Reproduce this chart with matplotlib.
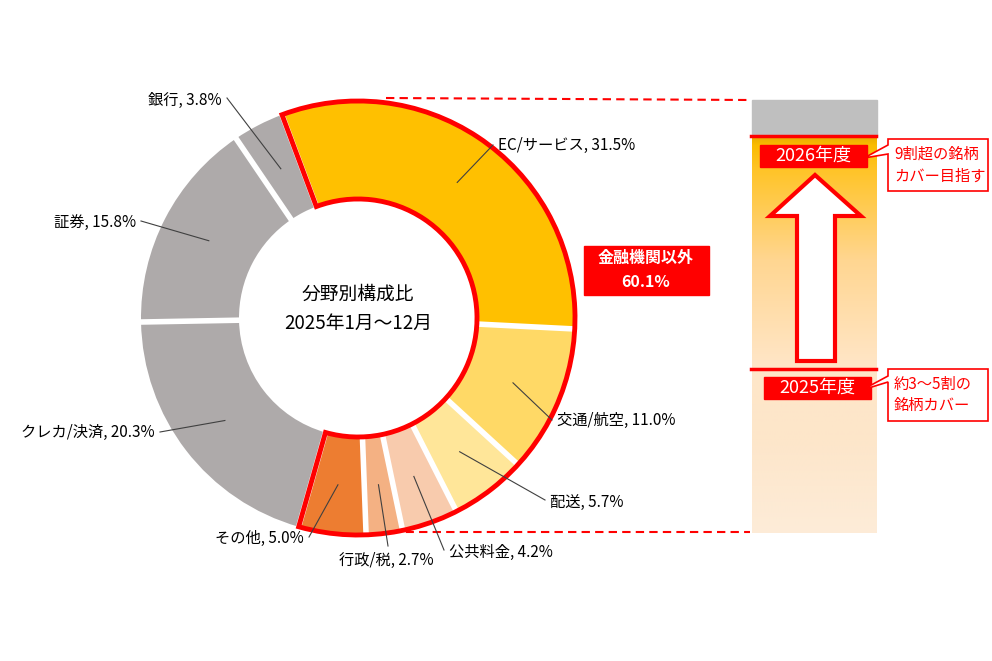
import numpy as np
import matplotlib.pyplot as plt
from matplotlib.patches import Wedge, Rectangle, Polygon

plt.rcParams['font.family'] = ['Noto Sans CJK JP', 'DejaVu Sans']

# data
categories = ['EC/サービス', '交通/航空', '配送', '公共料金', '行政/税', 'その他',
              'クレカ/決済', '証券', '銀行']
shares = [31.5, 11.0, 5.7, 4.2, 2.7, 5.0, 20.3, 15.8, 3.8]
colors = ['#FFC000', '#FFD966', '#FFE699', '#F8CBAD', '#F4B183', '#ED7D31',
          '#AEAAAA', '#AEAAAA', '#AEAAAA']
n_non_finance = 6
center_title = '分野別構成比\n2025年1月～12月'
group_label = '金融機関以外\n60.1%'
years = ['2026年度', '2025年度']
year_notes = ['9割超の銘柄\nカバー目指す', '約3～5割の\n銘柄カバー']

W, H = 992, 661
fig = plt.figure(figsize=(W / 100, H / 100), dpi=100)
ax = fig.add_axes([0, 0, 1, 1])


def py(y):
    return H - y


cx, cy = 358, py(318)
R, ring = 217, 98
start = 110.5

ax.pie(shares, colors=colors, startangle=start, counterclock=False, radius=R,
       center=(cx, cy), wedgeprops=dict(width=ring, linewidth=0), frame=True)
ax.set_xlim(0, W)
ax.set_ylim(0, H)
ax.set_aspect('equal')
ax.axis('off')

# white gaps between slices
cum = np.concatenate([[0], np.cumsum(shares)])
for c in cum[:-1]:
    th = np.radians(start - 3.6 * c)
    r0, r1 = R - ring - 3, R + 3
    ax.plot([cx + r0 * np.cos(th), cx + r1 * np.cos(th)],
            [cy + r0 * np.sin(th), cy + r1 * np.sin(th)],
            color='white', lw=4, solid_capstyle='butt', zorder=3)

# red outline around non-finance group
grp = sum(shares[:n_non_finance])
ax.add_patch(Wedge((cx, cy), R, start - 3.6 * grp, start, width=ring,
                   fill=False, edgecolor='#FF0000', lw=3.5, zorder=4))

# leader labels: text position, line end, alignment (layout only)
label_pos = [
    (498, 145, 493, 145, 'left', 'center'),
    (557, 420, 552, 420, 'left', 'center'),
    (550, 502, 545, 500, 'left', 'center'),
    (449, 552, 444, 550, 'left', 'center'),
    (386, 552, 388, 546, 'center', 'top'),
    (304, 538, 309, 537, 'right', 'center'),
    (155, 432, 160, 432, 'right', 'center'),
    (136, 222, 141, 221, 'right', 'center'),
    (222, 100, 227, 98, 'right', 'center'),
]
rm = R - ring / 2
for i, (name, s) in enumerate(zip(categories, shares)):
    mid = np.radians(start - 3.6 * (cum[i] + s / 2))
    ax_, ay_ = cx + rm * np.cos(mid), cy + rm * np.sin(mid)
    tx, ty, lx, ly, ha, va = label_pos[i]
    ax.plot([ax_, lx], [ay_, py(ly)], color='#404040', lw=0.8, zorder=5)
    ax.text(tx, py(ty), f'{name}, {s:.1f}%', ha=ha, va=va, fontsize=11,
            color='black', zorder=6)

ax.text(cx, py(309), center_title, ha='center', va='center', fontsize=13.5,
        linespacing=1.5)

# group label box
ax.add_patch(Rectangle((584, py(295)), 125, 49, color='#FF0000', zorder=5))
ax.text(646, py(270), group_label, ha='center', va='center', color='white',
        fontsize=11.5, fontweight='bold', linespacing=1.6, zorder=6)

# dashed connectors
ax.plot([386, 750], [py(98), py(100)], color='#FF0000', lw=1.5,
        ls=(0, (4, 2.5)))
ax.plot([392, 750], [py(532), py(532)], color='#FF0000', lw=1.5,
        ls=(0, (4, 2.5)))

# right bar
bx0, bx1 = 752, 877
ax.add_patch(Rectangle((bx0, py(136)), bx1 - bx0, 36, color='#BFBFBF'))
ys = np.arange(136, 534)
stop_y = [136, 145, 170, 260, 368, 440, 533]
stop_c = np.array([[233, 172, 0], [250, 188, 0], [255, 196, 40],
                   [255, 214, 145], [255, 230, 200], [253, 230, 202],
                   [253, 236, 216]]) / 255
grad = np.stack([np.interp(ys, stop_y, stop_c[:, k]) for k in range(3)], axis=1)
ax.imshow(grad[:, None, :], extent=(bx0, bx1, py(533), py(136)),
          aspect='auto', origin='upper', zorder=1)
ax.set_xlim(0, W)
ax.set_ylim(0, H)
for yl in (136, 369):
    ax.plot([bx0 - 1, bx1 - 1], [py(yl), py(yl)], color='#FF0000', lw=2.5,
            zorder=3)

# arrow
arrow = [(815, 175), (861, 216), (835, 216), (835, 361), (797, 361),
         (797, 216), (770, 216)]
ax.add_patch(Polygon([(x, py(y)) for x, y in arrow], closed=True,
                     facecolor='white', edgecolor='#FF0000', lw=3, zorder=4))

# year boxes and callouts
year_box = [(760, 145, 107, 22), (764, 377, 107, 22)]
callouts = [(888, 139, 100, 52, 145, 154, 864, 158),
            (888, 369, 100, 52, 376, 382, 862, 390)]
for yr, note, (x0, y0, w, h), (bx, by, bw, bh, b0, b1, tx, ty) in zip(
        years, year_notes, year_box, callouts):
    ax.add_patch(Rectangle((x0, py(y0 + h)), w, h, color='#FF0000', zorder=5))
    ax.text(x0 + w / 2, py(y0 + h / 2), yr, ha='center', va='center',
            color='white', fontsize=13, zorder=6)
    pts = [(bx, by), (bx + bw, by), (bx + bw, by + bh), (bx, by + bh),
           (bx, b1), (tx, ty), (bx, b0)]
    ax.add_patch(Polygon([(x, py(y)) for x, y in pts], closed=True,
                         facecolor='white', edgecolor='#FF0000', lw=1.2,
                         zorder=5))
    ax.text(bx + 6, py(by + bh / 2), note, ha='left', va='center',
            color='#FF0000', fontsize=11, linespacing=1.35, zorder=6)

fig.savefig('out.png', dpi=100)
